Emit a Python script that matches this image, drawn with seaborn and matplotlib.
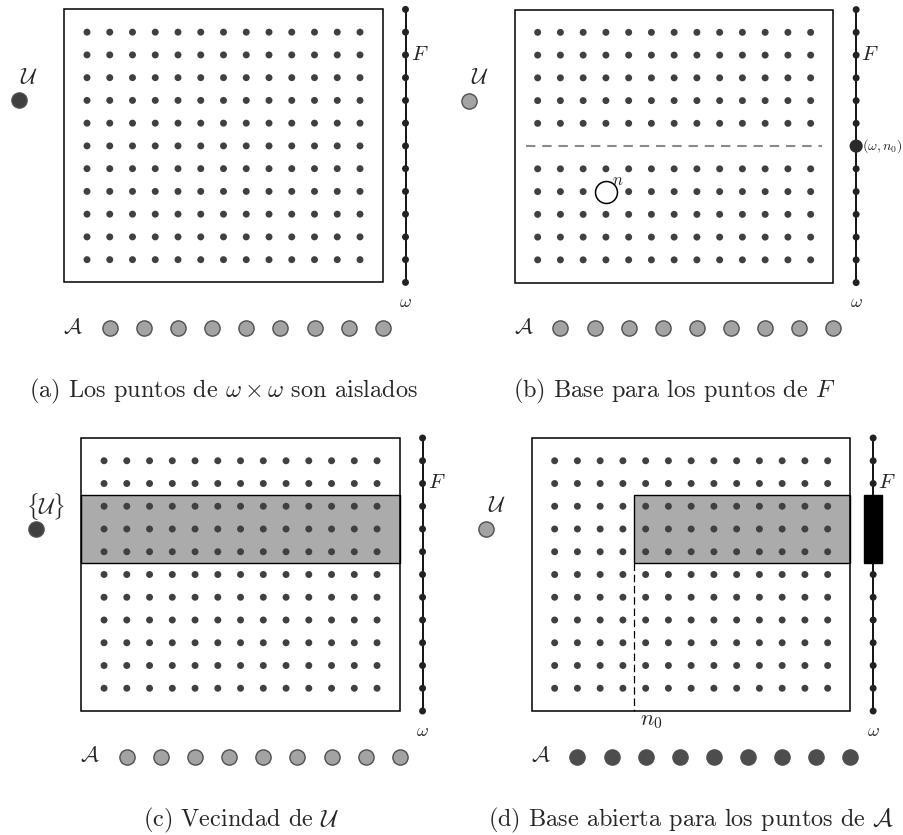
import matplotlib
matplotlib.use("Agg")
import numpy as np
import pandas as pd
import matplotlib.pyplot as plt
import seaborn as sns
from matplotlib.patches import Rectangle

# omega x omega grid (column index, row index from the top)
grid_cols = [1, 2, 3, 4, 5, 6, 7, 8, 9, 10, 11, 12, 13]
grid_rows = [1, 2, 3, 4, 5, 6, 7, 8, 9, 10, 11]
# points of F on the vertical line
f_rows = [0, 1, 2, 3, 4, 5, 6, 7, 8, 9, 10, 11, 12]
# points of A on the bottom row
a_cols = [2, 3.5, 5, 6.5, 8, 9.5, 11, 12.5, 14]

panel_keys = ["a", "b", "c", "d"]
captions = {
    "a": r"(a) Los puntos de $\omega \times \omega$ son aislados",
    "b": r"(b) Base para los puntos de $F$",
    "c": r"(c) Vecindad de $\mathcal{U}$",
    "d": r"(d) Base abierta para los puntos de $\mathcal{A}$",
}
u_labels = {"a": r"$\mathcal{U}$", "b": r"$\mathcal{U}$",
            "c": r"$\{\mathcal{U}\}$", "d": r"$\mathcal{U}$"}
u_dark = {"a": True, "b": False, "c": True, "d": False}
a_dark = {"a": False, "b": False, "c": False, "d": True}

# panel (b): row n0 and the point n
n0_row = 6
n_point = (4, 8)
# shaded neighbourhoods (x0, x1, y0, y1) in grid units
bands = {"c": (0, 14, 2.5, 5.5), "d": (4.5, 14, 2.5, 5.5)}
n0_col = 4.5

DARK = "#404040"
LIGHT = "#a3a3a3"
BAND = "#ababab"

W, H = 904, 835
S = 22.75  # pixels per grid unit
origins = {"a": (64.25, 9.4), "b": (514.9, 9.6), "c": (81.3, 438.0), "d": (531.9, 438.0)}
XL, XR, YT, YB = -3.0, 17.2, -0.45, 17.4

sns.set_theme(style="white")
plt.rcParams["font.family"] = ["cmr10", "DejaVu Serif"]
plt.rcParams["mathtext.fontset"] = "cm"
plt.rcParams["axes.unicode_minus"] = False
plt.rcParams["axes.formatter.use_mathtext"] = True

fig = plt.figure(figsize=(W / 100, H / 100), dpi=100)
fig.patch.set_facecolor("white")


def draw_panel(ax, key):
    pts = pd.DataFrame([(c, r) for r in grid_rows for c in grid_cols], columns=["col", "row"])
    if key == "b":
        pts = pts[(pts["row"] != n0_row) & ~((pts["col"] == n_point[0]) & (pts["row"] == n_point[1]))]

    if key in bands:
        x0, x1, y0, y1 = bands[key]
        ax.add_patch(Rectangle((x0, y0), x1 - x0, y1 - y0, facecolor=BAND,
                               edgecolor="black", lw=1.0, zorder=1))

    # outer box of omega x omega
    ax.add_patch(Rectangle((0, 0), 14, 12, facecolor="none", edgecolor="black", lw=1.1, zorder=2))

    sns.scatterplot(data=pts, x="col", y="row", ax=ax, s=25, color=DARK,
                    edgecolor="none", linewidth=0, legend=False, zorder=3)

    # the closed set F = {omega} x (omega+1)
    f_df = pd.DataFrame({"x": [15] * len(f_rows), "y": f_rows})
    ax.plot(f_df["x"], f_df["y"], color="black", lw=1.3, zorder=3)
    if key == "b":
        f_df = f_df[f_df["y"] != n0_row]
    sns.scatterplot(data=f_df, x="x", y="y", ax=ax, s=25, color="#222222",
                    edgecolor="none", linewidth=0, legend=False, zorder=4)

    # ultrafilter point U
    ucol = DARK if u_dark[key] else LIGHT
    ax.scatter([-2], [4], s=120, color=ucol, edgecolor="#505050", lw=1.0, zorder=4)
    ax.text(-1.55, 3.0, u_labels[key], fontsize=16, ha="center", va="center")

    # the set A
    a_df = pd.DataFrame({"x": a_cols, "y": [14] * len(a_cols)})
    acol = "#4d4d4d" if a_dark[key] else LIGHT
    sns.scatterplot(data=a_df, x="x", y="y", ax=ax, s=120, color=acol,
                    edgecolor="#505050", linewidth=1.0, legend=False, zorder=4)
    ax.text(0.38, 14.0, r"$\mathcal{A}$", fontsize=16, ha="center", va="center")

    ax.text(15.22, 2.0, r"$F$", fontsize=15, ha="left", va="center")
    ax.text(15.0, 12.88, r"$\omega$", fontsize=13, ha="center", va="center")

    if key == "b":
        ax.plot([0.5, 13.5], [n0_row, n0_row], color="#8a8a8a", lw=1.5,
                dashes=(4.5, 3.3), zorder=2)
        ax.scatter([15], [n0_row], s=90, color="#2a2a2a", edgecolor="none", zorder=5)
        ax.text(15.25, n0_row, r"$(\omega,n_0)$", fontsize=10, ha="left", va="center")
        ax.scatter([n_point[0]], [n_point[1]], s=250, facecolor="white",
                   edgecolor="black", lw=1.1, zorder=5)
        ax.text(n_point[0] + 0.5, n_point[1] - 0.5, r"$n$", fontsize=12, ha="center", va="center")

    if key == "d":
        y1 = bands["d"][3]
        ax.plot([n0_col, n0_col], [y1, 12], color="black", lw=0.9, dashes=(6, 3), zorder=2)
        ax.text(n0_col + 0.75, 12.47, r"$n_0$", fontsize=16, ha="center", va="center")
        ax.add_patch(Rectangle((14.6, 2.5), 0.8, 3.0, facecolor="black",
                               edgecolor="black", zorder=6))

    ax.text(7.0, 16.8, captions[key], fontsize=17.5, ha="center", va="center")

    ax.set_xlim(XL, XR)
    ax.set_ylim(YB, YT)
    ax.set_axis_off()


for key in panel_keys:
    ox, oy = origins[key]
    left = ox + XL * S
    top = oy + YT * S
    w = (XR - XL) * S
    h = (YB - YT) * S
    ax = fig.add_axes([left / W, 1 - (top + h) / H, w / W, h / H])
    draw_panel(ax, key)

fig.savefig("out.png", dpi=100, facecolor="white")
